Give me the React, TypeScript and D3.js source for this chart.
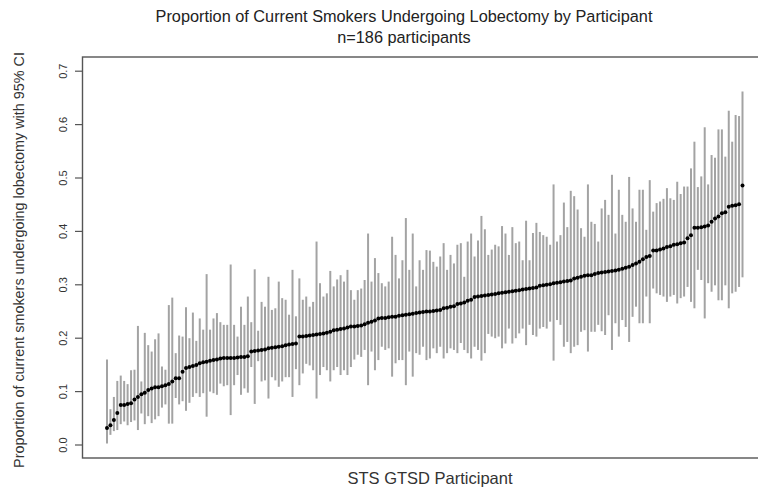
import React from "react";
import * as d3 from "d3";

const estimates: number[] = [
  0.032, 0.037, 0.047, 0.060, 0.075, 0.075, 0.077, 0.078, 0.085, 0.090,
  0.095, 0.098, 0.103, 0.106, 0.108, 0.108, 0.110, 0.112, 0.114, 0.119,
  0.125, 0.125, 0.137, 0.144, 0.146, 0.148, 0.150, 0.153, 0.155, 0.156,
  0.158, 0.159, 0.160, 0.162, 0.163, 0.163, 0.163, 0.163, 0.164, 0.165,
  0.165, 0.166, 0.175, 0.176, 0.177, 0.178, 0.179, 0.181, 0.182, 0.183,
  0.184, 0.185, 0.187, 0.188, 0.189, 0.190, 0.203, 0.203, 0.204, 0.205,
  0.206, 0.207, 0.208, 0.209, 0.210, 0.212, 0.215, 0.216, 0.217, 0.218,
  0.220, 0.222, 0.222, 0.223, 0.224, 0.226, 0.229, 0.231, 0.233, 0.237,
  0.238, 0.238, 0.239, 0.240, 0.240, 0.242, 0.243, 0.244, 0.245, 0.246,
  0.247, 0.248, 0.249, 0.250, 0.250, 0.251, 0.252, 0.253, 0.256, 0.257,
  0.259, 0.260, 0.264, 0.265, 0.267, 0.270, 0.272, 0.277, 0.278, 0.279,
  0.280, 0.281, 0.282, 0.283, 0.284, 0.285, 0.286, 0.287, 0.288, 0.289,
  0.290, 0.291, 0.292, 0.293, 0.294, 0.295, 0.298, 0.299, 0.300, 0.301,
  0.303, 0.304, 0.305, 0.306, 0.307, 0.308, 0.312, 0.313, 0.315, 0.317,
  0.318, 0.318, 0.320, 0.322, 0.323, 0.324, 0.325, 0.326, 0.327, 0.328,
  0.330, 0.332, 0.334, 0.337, 0.340, 0.343, 0.348, 0.352, 0.354, 0.364,
  0.364, 0.366, 0.368, 0.371, 0.372, 0.375, 0.376, 0.378, 0.379, 0.387,
  0.393, 0.407, 0.407, 0.408, 0.409, 0.411, 0.418, 0.424, 0.428, 0.434,
  0.436, 0.446, 0.448, 0.449, 0.451, 0.486,
];

const lowerCI: number[] = [
  0.003, 0.019, 0.026, 0.028, 0.039, 0.044, 0.037, 0.043, 0.046, 0.028,
  0.059, 0.039, 0.054, 0.041, 0.048, 0.054, 0.070, 0.076, 0.040, 0.040,
  0.088, 0.076, 0.082, 0.064, 0.079, 0.090, 0.097, 0.090, 0.097, 0.053,
  0.100, 0.097, 0.094, 0.115, 0.110, 0.112, 0.056, 0.112, 0.131, 0.094,
  0.106, 0.098, 0.146, 0.077, 0.157, 0.119, 0.121, 0.087, 0.127, 0.121,
  0.109, 0.119, 0.127, 0.127, 0.090, 0.142, 0.112, 0.134, 0.152, 0.149,
  0.140, 0.087, 0.131, 0.146, 0.140, 0.119, 0.140, 0.146, 0.131, 0.140,
  0.131, 0.146, 0.160, 0.169, 0.165, 0.178, 0.112, 0.175, 0.140, 0.159,
  0.184, 0.178, 0.181, 0.128, 0.153, 0.159, 0.159, 0.112, 0.175, 0.128,
  0.172, 0.169, 0.184, 0.159, 0.162, 0.181, 0.172, 0.184, 0.162, 0.172,
  0.181, 0.178, 0.172, 0.191, 0.178, 0.172, 0.162, 0.184, 0.178, 0.158,
  0.172, 0.208, 0.203, 0.200, 0.203, 0.181, 0.190, 0.218, 0.190, 0.200,
  0.209, 0.218, 0.187, 0.225, 0.206, 0.203, 0.218, 0.221, 0.218, 0.231,
  0.158, 0.234, 0.225, 0.184, 0.193, 0.172, 0.184, 0.187, 0.212, 0.215,
  0.175, 0.212, 0.212, 0.225, 0.213, 0.206, 0.243, 0.178, 0.228, 0.203,
  0.234, 0.221, 0.193, 0.240, 0.259, 0.228, 0.228, 0.278, 0.228, 0.293,
  0.284, 0.281, 0.278, 0.268, 0.278, 0.281, 0.265, 0.275, 0.278, 0.296,
  0.268, 0.256, 0.328, 0.309, 0.237, 0.303, 0.287, 0.299, 0.271, 0.271,
  0.299, 0.256, 0.284, 0.287, 0.296, 0.314,
];

const upperCI: number[] = [
  0.160, 0.067, 0.090, 0.120, 0.130, 0.120, 0.114, 0.140, 0.141, 0.223,
  0.119, 0.210, 0.187, 0.175, 0.198, 0.209, 0.147, 0.141, 0.262, 0.276,
  0.172, 0.205, 0.203, 0.258, 0.200, 0.248, 0.195, 0.237, 0.216, 0.320,
  0.216, 0.237, 0.247, 0.230, 0.225, 0.225, 0.338, 0.225, 0.203, 0.259,
  0.225, 0.278, 0.230, 0.329, 0.214, 0.268, 0.259, 0.315, 0.253, 0.256,
  0.306, 0.275, 0.272, 0.244, 0.328, 0.241, 0.312, 0.272, 0.278, 0.259,
  0.268, 0.381, 0.303, 0.278, 0.284, 0.326, 0.297, 0.310, 0.318, 0.306,
  0.328, 0.290, 0.272, 0.290, 0.293, 0.309, 0.396, 0.306, 0.350, 0.322,
  0.303, 0.297, 0.306, 0.390, 0.356, 0.312, 0.346, 0.425, 0.328, 0.396,
  0.297, 0.346, 0.328, 0.365, 0.364, 0.343, 0.334, 0.353, 0.378, 0.328,
  0.356, 0.340, 0.375, 0.378, 0.315, 0.381, 0.396, 0.353, 0.383, 0.429,
  0.404, 0.356, 0.366, 0.375, 0.372, 0.410, 0.396, 0.356, 0.408, 0.378,
  0.381, 0.346, 0.420, 0.346, 0.397, 0.416, 0.399, 0.393, 0.390, 0.375,
  0.488, 0.381, 0.393, 0.454, 0.408, 0.476, 0.466, 0.441, 0.406, 0.390,
  0.488, 0.418, 0.414, 0.381, 0.443, 0.459, 0.431, 0.506, 0.396, 0.478,
  0.431, 0.418, 0.502, 0.443, 0.418, 0.478, 0.478, 0.403, 0.496, 0.437,
  0.453, 0.456, 0.461, 0.481, 0.462, 0.459, 0.493, 0.470, 0.484, 0.484,
  0.518, 0.568, 0.483, 0.503, 0.595, 0.488, 0.543, 0.538, 0.591, 0.591,
  0.540, 0.626, 0.568, 0.618, 0.616, 0.662,
];

const yTicks: number[] = [0, 0.1, 0.2, 0.3, 0.4, 0.5, 0.6, 0.7];
const yTickLabels: string[] = ["0.0", "0.1", "0.2", "0.3", "0.4", "0.5", "0.6", "0.7"];

const titleLine1 = "Proportion of Current Smokers Undergoing Lobectomy by Participant";
const titleLine2 = "n=186 participants";
const xLabel = "STS GTSD Participant";
const yLabel = "Proportion of current smokers undergoing lobectomy with 95% CI";

export default function App() {
  const W = 758;
  const H = 491;
  const box = { left: 82.5, top: 57, right: 768, bottom: 458 };
  const n = estimates.length;
  const x = d3.scaleLinear().domain([1, n]).range([107, 742.5]);
  const y = d3.scaleLinear().domain([0, 0.7]).range([445, 71.2]);
  const idx = d3.range(n);
  const font = "'Liberation Sans', Arial, sans-serif";

  return (
    <svg
      width={W}
      height={H}
      style={{ position: "absolute", left: 0, top: 0, background: "#fff" }}
    >
      <rect x={0} y={0} width={W} height={H} fill="#fff" />
      <text x={404} y={22} textAnchor="middle" fontFamily={font} fontSize={16.3} fill="#222">
        {titleLine1}
      </text>
      <text x={404} y={43} textAnchor="middle" fontFamily={font} fontSize={16.3} fill="#222">
        {titleLine2}
      </text>

      {/* error bars */}
      <g stroke="#a3a3a3" strokeWidth={2}>
        {idx.map((i) => (
          <line
            key={"b" + i}
            x1={x(i + 1)}
            x2={x(i + 1)}
            y1={y(lowerCI[i])}
            y2={y(upperCI[i])}
          />
        ))}
      </g>
      {/* point estimates */}
      <g fill="#000">
        {idx.map((i) => (
          <circle key={"p" + i} cx={x(i + 1)} cy={y(estimates[i])} r={2} />
        ))}
      </g>

      {/* box */}
      <rect
        x={box.left}
        y={box.top}
        width={box.right - box.left}
        height={box.bottom - box.top}
        fill="none"
        stroke="#555"
        strokeWidth={1.4}
      />

      {/* y axis */}
      <g>
        {yTicks.map((t, k) => (
          <g key={"t" + k}>
            <line x1={75} x2={box.left} y1={y(t)} y2={y(t)} stroke="#555" strokeWidth={1.2} />
            <text
              transform={`translate(67,${y(t)}) rotate(-90)`}
              textAnchor="middle"
              fontFamily={font}
              fontSize={11}
              fill="#333"
            >
              {yTickLabels[k]}
            </text>
          </g>
        ))}
      </g>

      <text
        transform={`translate(24,260) rotate(-90)`}
        textAnchor="middle"
        fontFamily={font}
        fontSize={14.4}
        fill="#333"
      >
        {yLabel}
      </text>
      <text x={430} y={484} textAnchor="middle" fontFamily={font} fontSize={16.5} fill="#333">
        {xLabel}
      </text>
    </svg>
  );
}
